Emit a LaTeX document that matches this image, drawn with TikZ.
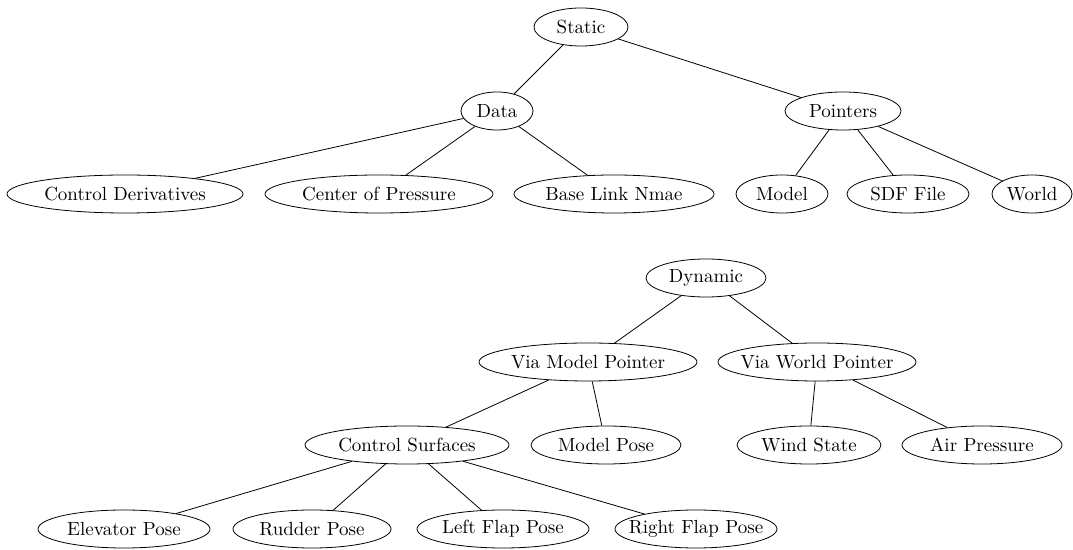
\documentclass[tikz,border=0pt]{standalone}
\usetikzlibrary{shapes.geometric}

\begin{document}
\begin{tikzpicture}[x=0.5pt,y=-0.5pt,font=\fontsize{9.5}{11}\selectfont,
  item/.style={draw,ellipse,inner ysep=0pt,inner xsep=-12pt,minimum height=19pt}]
\useasboundingbox (0,0) rectangle (1073,550);

% static branch
\node[item,minimum width=47pt] (static) at (581,27) {Static};
\node[item,minimum width=36pt] (data) at (497,111) {Data};
\node[item,minimum width=58pt] (pointers) at (843,111) {Pointers};
\node[item,minimum width=118pt] (ctrlderiv) at (125,194) {Control Derivatives};
\node[item,minimum width=114pt] (cop) at (379,194) {Center of Pressure};
\node[item,minimum width=100pt] (baselink) at (614,194) {Base Link Nmae};
\node[item,minimum width=46pt] (model) at (782,194) {Model};
\node[item,minimum width=61pt] (sdf) at (908,194) {SDF File};
\node[item,minimum width=40pt] (world) at (1032,194) {World};

\draw (static) -- (data);
\draw (static) -- (pointers);
\draw (data) -- (ctrlderiv);
\draw (data) -- (cop);
\draw (data) -- (baselink);
\draw (pointers) -- (model);
\draw (pointers) -- (sdf);
\draw (pointers) -- (world);

% dynamic branch
\node[item,minimum width=60pt] (dynamic) at (706,278) {Dynamic};
\node[item,minimum width=109pt] (viamodel) at (588,362) {Via Model Pointer};
\node[item,minimum width=99pt] (viaworld) at (817,362) {Via World Pointer};
\node[item,minimum width=102pt] (surfaces) at (407,445) {Control Surfaces};
\node[item,minimum width=75pt] (modelpose) at (606,445) {Model Pose};
\node[item,minimum width=72pt] (wind) at (809,445) {Wind State};
\node[item,minimum width=80pt] (air) at (982,445) {Air Pressure};
\node[item,minimum width=86pt] (elevator) at (124,529) {Elevator Pose};
\node[item,minimum width=79pt] (rudder) at (312,529) {Rudder Pose};
\node[item,minimum width=86pt] (leftflap) at (503,529) {Left Flap Pose};
\node[item,minimum width=81pt] (rightflap) at (696,529) {Right Flap Pose};

\draw (dynamic) -- (viamodel);
\draw (dynamic) -- (viaworld);
\draw (viamodel) -- (surfaces);
\draw (viamodel) -- (modelpose);
\draw (viaworld) -- (wind);
\draw (viaworld) -- (air);
\draw (surfaces) -- (elevator);
\draw (surfaces) -- (rudder);
\draw (surfaces) -- (leftflap);
\draw (surfaces) -- (rightflap);

\end{tikzpicture}
\end{document}
